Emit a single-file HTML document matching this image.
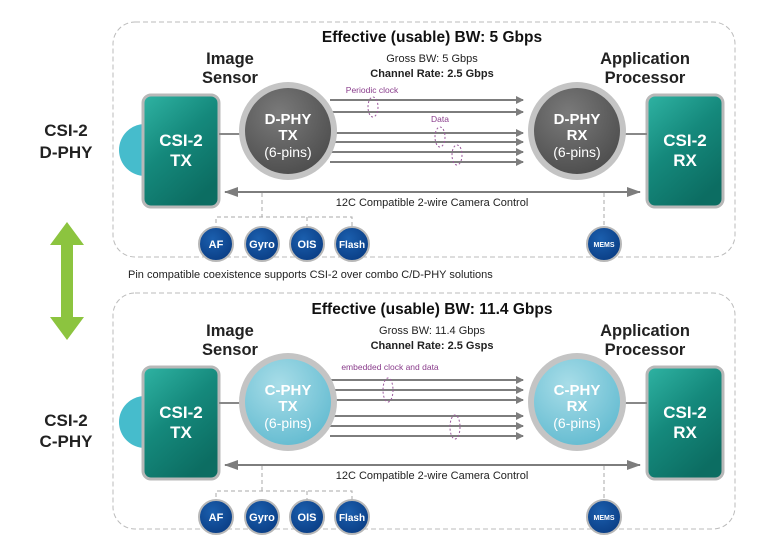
<!DOCTYPE html>
<html><head><meta charset="utf-8"><style>
html,body{margin:0;padding:0;background:#fff}
svg{display:block}
text{font-family:"Liberation Sans",sans-serif}
</style></head><body>
<svg width="760" height="550" viewBox="0 0 760 550" xmlns="http://www.w3.org/2000/svg">
<defs>
<linearGradient id="teal" x1="0" y1="0" x2="0.6" y2="1">
<stop offset="0" stop-color="#2fb3a3"/><stop offset="0.5" stop-color="#15897c"/><stop offset="1" stop-color="#0c6d62"/></linearGradient>
<radialGradient id="dark" cx="0.4" cy="0.3" r="0.8"><stop offset="0" stop-color="#7a7a7a"/><stop offset="1" stop-color="#4a4a4a"/></radialGradient>
<radialGradient id="light" cx="0.4" cy="0.3" r="0.8"><stop offset="0" stop-color="#a8dde8"/><stop offset="1" stop-color="#5fb9cf"/></radialGradient>
<radialGradient id="blue" cx="0.4" cy="0.35" r="0.7"><stop offset="0" stop-color="#1b5fae"/><stop offset="1" stop-color="#0a3d84"/></radialGradient>
<marker id="ah" markerWidth="8" markerHeight="8" refX="7" refY="4" orient="auto" markerUnits="userSpaceOnUse"><path d="M0,0 L8,4 L0,8 Z" fill="#7d7d7d"/></marker>
<marker id="ahs" markerWidth="14" markerHeight="10" refX="13" refY="5" orient="auto-start-reverse" markerUnits="userSpaceOnUse"><path d="M0,0 L14,5 L0,10 Z" fill="#7d7d7d"/></marker>
<g id="small">
</g>
</defs>

<!-- left labels -->
<g font-weight="bold" font-size="17" fill="#222" text-anchor="middle">
<text x="66" y="136">CSI-2</text><text x="66" y="158">D-PHY</text>
<text x="66" y="426">CSI-2</text><text x="66" y="447">C-PHY</text>
</g>
<!-- green double arrow -->
<path d="M67,222 L84,245 L73,245 L73,317 L84,317 L67,340 L50,317 L61,317 L61,245 L50,245 Z" fill="#8cc43f"/>
<text x="128" y="278" font-size="11" fill="#222">Pin compatible coexistence supports CSI-2 over combo C/D-PHY solutions</text>

<!-- TOP SECTION -->
<g id="top">
<rect x="113" y="22" width="622" height="235" rx="22" fill="none" stroke="#bbb" stroke-dasharray="5,3"/>
</g>
<rect x="113" y="293" width="622" height="236" rx="22" fill="none" stroke="#bbb" stroke-dasharray="5,3"/>

<!-- reusable section contents drawn twice -->
<g>
<text x="432" y="42" font-size="15.5" font-weight="bold" text-anchor="middle" fill="#111">Effective (usable) BW: 5 Gbps</text>
<text x="432" y="62" font-size="11" text-anchor="middle" fill="#222">Gross BW: 5 Gbps</text>
<text x="432" y="77" font-size="11" font-weight="bold" text-anchor="middle" fill="#222">Channel Rate: 2.5 Gbps</text>
<text x="230" y="64" font-size="16.5" font-weight="bold" text-anchor="middle" fill="#222">Image</text>
<text x="230" y="83" font-size="16.5" font-weight="bold" text-anchor="middle" fill="#222">Sensor</text>
<text x="645" y="64" font-size="16.5" font-weight="bold" text-anchor="middle" fill="#222">Application</text>
<text x="645" y="83" font-size="16.5" font-weight="bold" text-anchor="middle" fill="#222">Processor</text>
<circle cx="145" cy="150" r="26" fill="#46bccc"/>
<rect x="143" y="95" width="76" height="112" rx="8" fill="url(#teal)" stroke="#b8b8b8" stroke-width="3"/>
<text x="181" y="146" font-size="17" font-weight="bold" fill="#fff" text-anchor="middle">CSI-2</text>
<text x="181" y="166" font-size="17" font-weight="bold" fill="#fff" text-anchor="middle">TX</text>
<rect x="647" y="95" width="76" height="112" rx="8" fill="url(#teal)" stroke="#b8b8b8" stroke-width="3"/>
<text x="685" y="146" font-size="17" font-weight="bold" fill="#fff" text-anchor="middle">CSI-2</text>
<text x="685" y="166" font-size="17" font-weight="bold" fill="#fff" text-anchor="middle">RX</text>
<line x1="219" y1="134" x2="240" y2="134" stroke="#888" stroke-width="2"/>
<line x1="625" y1="134" x2="647" y2="134" stroke="#888" stroke-width="2"/>
<g stroke="#7d7d7d" stroke-width="2" marker-end="url(#ah)">
<line x1="330" y1="100" x2="523" y2="100"/><line x1="330" y1="112" x2="523" y2="112"/>
<line x1="330" y1="133" x2="523" y2="133"/><line x1="330" y1="142" x2="523" y2="142"/>
<line x1="330" y1="152" x2="523" y2="152"/><line x1="330" y1="162" x2="523" y2="162"/>
</g>
<circle cx="288" cy="131" r="49" fill="#c4c4c4"/><circle cx="288" cy="131" r="43" fill="url(#dark)"/>
<text x="288" y="124" font-size="15" font-weight="bold" fill="#fff" text-anchor="middle">D-PHY</text>
<text x="288" y="140" font-size="15" font-weight="bold" fill="#fff" text-anchor="middle">TX</text>
<text x="288" y="157" font-size="14" fill="#fff" text-anchor="middle">(6-pins)</text>
<circle cx="577" cy="131" r="49" fill="#c4c4c4"/><circle cx="577" cy="131" r="43" fill="url(#dark)"/>
<text x="577" y="124" font-size="15" font-weight="bold" fill="#fff" text-anchor="middle">D-PHY</text>
<text x="577" y="140" font-size="15" font-weight="bold" fill="#fff" text-anchor="middle">RX</text>
<text x="577" y="157" font-size="14" fill="#fff" text-anchor="middle">(6-pins)</text>
<text x="372" y="93" font-size="8.5" fill="#8a3d8c" text-anchor="middle">Periodic clock</text>
<text x="440" y="122" font-size="8.5" fill="#8a3d8c" text-anchor="middle">Data</text>
<g fill="none" stroke="#9a5a9c" stroke-dasharray="2,2">
<ellipse cx="373" cy="107" rx="5" ry="10"/><ellipse cx="440" cy="137" rx="5" ry="10"/><ellipse cx="457" cy="155" rx="5" ry="10"/></g>
<line x1="225" y1="192" x2="640" y2="192" stroke="#7d7d7d" stroke-width="2" marker-start="url(#ahs)" marker-end="url(#ahs)"/>
<text x="432" y="206" font-size="11" text-anchor="middle" fill="#222">12C Compatible 2-wire Camera Control</text>
<g fill="none" stroke="#aaa" stroke-dasharray="4,3">
<path d="M262,193 V217 M216,230 V217 H352 V230 M307,217 V230 M604,193 V229"/></g>
<g font-size="11" font-weight="bold" fill="#fff" text-anchor="middle">
<circle cx="216" cy="244" r="17" fill="url(#blue)" stroke="#b8b8b8" stroke-width="2"/><text x="216" y="248">AF</text>
<circle cx="262" cy="244" r="17" fill="url(#blue)" stroke="#b8b8b8" stroke-width="2"/><text x="262" y="248">Gyro</text>
<circle cx="307" cy="244" r="17" fill="url(#blue)" stroke="#b8b8b8" stroke-width="2"/><text x="307" y="248">OIS</text>
<circle cx="352" cy="244" r="17" fill="url(#blue)" stroke="#b8b8b8" stroke-width="2"/><text x="352" y="248" font-size="10">Flash</text>
<circle cx="604" cy="244" r="17" fill="url(#blue)" stroke="#b8b8b8" stroke-width="2"/><text x="604" y="247" font-size="7">MEMS</text>
</g>
</g>

<!-- BOTTOM SECTION -->
<g transform="translate(0,272)">
<text x="432" y="42" font-size="15.5" font-weight="bold" text-anchor="middle" fill="#111">Effective (usable) BW: 11.4 Gbps</text>
<text x="432" y="62" font-size="11" text-anchor="middle" fill="#222">Gross BW: 11.4 Gbps</text>
<text x="432" y="77" font-size="11" font-weight="bold" text-anchor="middle" fill="#222">Channel Rate: 2.5 Gsps</text>
<text x="230" y="64" font-size="16.5" font-weight="bold" text-anchor="middle" fill="#222">Image</text>
<text x="230" y="83" font-size="16.5" font-weight="bold" text-anchor="middle" fill="#222">Sensor</text>
<text x="645" y="64" font-size="16.5" font-weight="bold" text-anchor="middle" fill="#222">Application</text>
<text x="645" y="83" font-size="16.5" font-weight="bold" text-anchor="middle" fill="#222">Processor</text>
<circle cx="145" cy="150" r="26" fill="#46bccc"/>
<rect x="143" y="95" width="76" height="112" rx="8" fill="url(#teal)" stroke="#b8b8b8" stroke-width="3"/>
<text x="181" y="146" font-size="17" font-weight="bold" fill="#fff" text-anchor="middle">CSI-2</text>
<text x="181" y="166" font-size="17" font-weight="bold" fill="#fff" text-anchor="middle">TX</text>
<rect x="647" y="95" width="76" height="112" rx="8" fill="url(#teal)" stroke="#b8b8b8" stroke-width="3"/>
<text x="685" y="146" font-size="17" font-weight="bold" fill="#fff" text-anchor="middle">CSI-2</text>
<text x="685" y="166" font-size="17" font-weight="bold" fill="#fff" text-anchor="middle">RX</text>
<line x1="219" y1="131" x2="240" y2="131" stroke="#888" stroke-width="2"/>
<line x1="625" y1="131" x2="647" y2="131" stroke="#888" stroke-width="2"/>
<g stroke="#7d7d7d" stroke-width="2" marker-end="url(#ah)">
<line x1="330" y1="108" x2="523" y2="108"/><line x1="330" y1="118" x2="523" y2="118"/>
<line x1="330" y1="128" x2="523" y2="128"/><line x1="330" y1="144" x2="523" y2="144"/>
<line x1="330" y1="154" x2="523" y2="154"/><line x1="330" y1="164" x2="523" y2="164"/>
</g>
<circle cx="288" cy="130" r="49" fill="#c4c4c4"/><circle cx="288" cy="130" r="43" fill="url(#light)"/>
<text x="288" y="123" font-size="15" font-weight="bold" fill="#fff" text-anchor="middle">C-PHY</text>
<text x="288" y="139" font-size="15" font-weight="bold" fill="#fff" text-anchor="middle">TX</text>
<text x="288" y="156" font-size="14" fill="#fff" text-anchor="middle">(6-pins)</text>
<circle cx="577" cy="130" r="49" fill="#c4c4c4"/><circle cx="577" cy="130" r="43" fill="url(#light)"/>
<text x="577" y="123" font-size="15" font-weight="bold" fill="#fff" text-anchor="middle">C-PHY</text>
<text x="577" y="139" font-size="15" font-weight="bold" fill="#fff" text-anchor="middle">RX</text>
<text x="577" y="156" font-size="14" fill="#fff" text-anchor="middle">(6-pins)</text>
<text x="390" y="98" font-size="8.5" fill="#8a3d8c" text-anchor="middle">embedded clock and data</text>
<g fill="none" stroke="#9a5a9c" stroke-dasharray="2,2">
<ellipse cx="388" cy="118" rx="5" ry="12"/><ellipse cx="455" cy="155" rx="5" ry="12"/></g>
<line x1="225" y1="193" x2="640" y2="193" stroke="#7d7d7d" stroke-width="2" marker-start="url(#ahs)" marker-end="url(#ahs)"/>
<text x="432" y="207" font-size="11" text-anchor="middle" fill="#222">12C Compatible 2-wire Camera Control</text>
<g fill="none" stroke="#aaa" stroke-dasharray="4,3">
<path d="M262,194 V219 M216,232 V219 H352 V232 M307,219 V232 M604,194 V231"/></g>
<g font-size="11" font-weight="bold" fill="#fff" text-anchor="middle">
<circle cx="216" cy="245" r="17" fill="url(#blue)" stroke="#b8b8b8" stroke-width="2"/><text x="216" y="249">AF</text>
<circle cx="262" cy="245" r="17" fill="url(#blue)" stroke="#b8b8b8" stroke-width="2"/><text x="262" y="249">Gyro</text>
<circle cx="307" cy="245" r="17" fill="url(#blue)" stroke="#b8b8b8" stroke-width="2"/><text x="307" y="249">OIS</text>
<circle cx="352" cy="245" r="17" fill="url(#blue)" stroke="#b8b8b8" stroke-width="2"/><text x="352" y="249" font-size="10">Flash</text>
<circle cx="604" cy="245" r="17" fill="url(#blue)" stroke="#b8b8b8" stroke-width="2"/><text x="604" y="248" font-size="7">MEMS</text>
</g>
</g>
</svg>
</body></html>
